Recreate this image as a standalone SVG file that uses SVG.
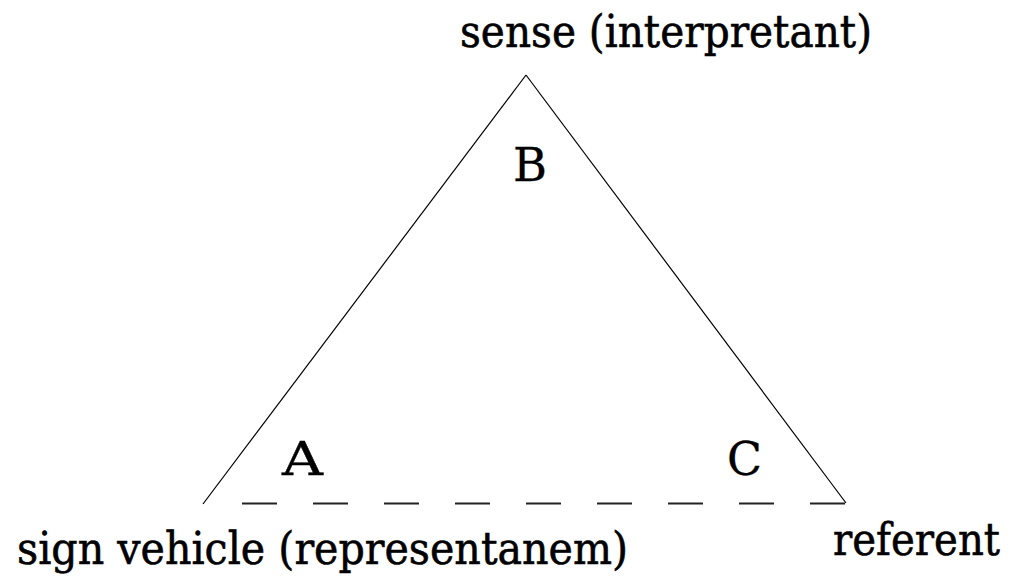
<svg xmlns="http://www.w3.org/2000/svg" width="1019" height="580" viewBox="0 0 1019 580">
<style>
.lbl{font-family:"DejaVu Serif","Liberation Serif",serif;font-size:45px;fill:#000;stroke:#000;stroke-width:0.6}
.corner{font-family:"DejaVu Serif","Liberation Serif",serif;font-size:46px;fill:#000;stroke:#000;stroke-width:0.3}
.side{stroke:#000;stroke-width:1.2;fill:none}
.dash{stroke:#222;stroke-width:2;stroke-dasharray:35 36;fill:none}
</style>
<rect width="1019" height="580" fill="#fff"/>
<g id="connectors">
<line class="side" x1="203" y1="504" x2="526" y2="75"/>
<line class="side" x1="526" y1="75" x2="846" y2="503"/>
<line class="dash" x1="242" y1="503.5" x2="846" y2="503.5"/>
</g>
<g id="node-sense">
<text class="lbl" x="460" y="47" textLength="412" lengthAdjust="spacingAndGlyphs">sense (interpretant)</text>
<text class="corner" x="513" y="181" textLength="34" lengthAdjust="spacingAndGlyphs">B</text>
</g>
<g id="node-sign">
<text class="lbl" x="17" y="564" textLength="611" lengthAdjust="spacingAndGlyphs">sign vehicle (representanem)</text>
<text class="corner" x="282" y="475" textLength="41" lengthAdjust="spacingAndGlyphs">A</text>
</g>
<g id="node-referent">
<text class="lbl" x="833" y="555" textLength="167" lengthAdjust="spacingAndGlyphs">referent</text>
<text class="corner" x="727" y="475" textLength="35" lengthAdjust="spacingAndGlyphs">C</text>
</g>
</svg>
